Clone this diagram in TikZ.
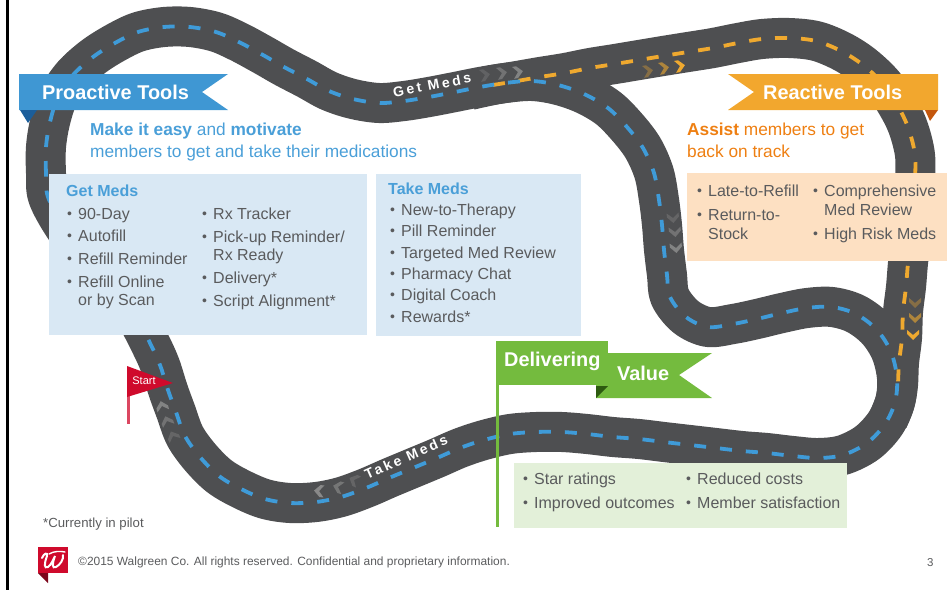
\documentclass[tikz,border=0pt]{standalone}
\usepackage{fontspec}
\setmainfont{Liberation Sans}
\newfontfamily\spaced[LetterSpace=19]{Liberation Sans}
\definecolor{roadc}{HTML}{4E4F51}
\definecolor{blued}{HTML}{3F9BD8}
\definecolor{oranged}{HTML}{EFA92F}
\definecolor{txtc}{HTML}{5A5B5D}
\definecolor{headblue}{HTML}{4A9FD8}
\definecolor{headorange}{HTML}{EE7F12}
\definecolor{bannerblue}{HTML}{3F97D3}
\definecolor{bannerorange}{HTML}{F2A72E}
\definecolor{bannergreen}{HTML}{74BB3E}
\definecolor{foldblue}{HTML}{1B5E9B}
\definecolor{foldorange}{HTML}{C4570D}
\definecolor{foldgreen}{HTML}{2D5A10}
\definecolor{redflag}{HTML}{CF0A2C}
\definecolor{boxblue}{HTML}{D9E8F4}
\definecolor{boxorange}{HTML}{FDE0C2}
\definecolor{boxgreen}{HTML}{E3F0D9}
\definecolor{chevgray}{HTML}{909090}
\newcommand\bu{\makebox[11pt][l]{\raisebox{0.5pt}{\fontsize{14}{14}\selectfont\textbullet}}}
\newcommand\chevron[5]{\fill[#4,opacity=#5,shift={(#1,#2)},rotate=#3] (-5,-6) -- (-1,-6) -- (5,0) -- (-1,6) -- (-5,6) -- (0,0) -- cycle;}
\newcommand\bluepts{(48,197)(46,173)(46,147)(50,122)(58,97)(73,75)(93,57)(115,43)(138,32)(164,27)(190,27)(216,32)(239,42)(263,55)(284,67)(307,79)(329,91)(353,99)(379,103)(404,101)(429,97)(455,92)(480,87)(505,83)(532,81)(558,85)(584,94)(608,108)(627,127)(643,148)(654,173)(659,200)(662,225)(664,250)(667,275)(670,297)(686,317)(708,327)(733,324)(757,319)(782,313)(807,308)(832,307)(856,314)(877,330)(891,352)(897,378)(895,402)(885,424)(867,443)(843,455)(818,458)(793,456)(767,453)(742,451)(716,448)(690,445)(664,442)(639,439)(613,437)(587,434)(562,432)(536,432)(510,434)(484,440)(460,448)(437,458)(413,468)(389,478)(366,488)(341,497)(316,502)(290,503)(265,499)(241,489)(219,476)(200,457)(185,436)(176,412)(168,390)(160,365)(150,343)(135,315)(115,290)(90,260)(65,228)}
\newcommand\orangepts{(493,85)(517,81)(540,77)(565,73)(590,68)(615,64)(639,60)(663,56)(688,52)(713,48)(738,43)(762,39)(789,38)(816,41)(841,51)(863,65)(884,85)(900,110)(909,130)(915,155)(915,182)(914,210)(911,237)(908,263)(906,287)(903,312)(902,338)(899,363)(898,385)}
\tikzset{
  road/.style={draw=roadc,line width=40pt,line join=round},
  bluedash/.style={draw=blued,line width=3.8pt,dash pattern=on 12pt off 14pt},
  orangedash/.style={draw=oranged,line width=3.8pt,dash pattern=on 12pt off 14pt},
  body/.style={anchor=base west,inner sep=0pt,text=txtc,font=\fontsize{16}{19}\selectfont},
  head/.style={anchor=base west,inner sep=0pt,font=\fontsize{17.3}{20}\selectfont},
  subhead/.style={anchor=base west,inner sep=0pt,text=headblue,font=\fontsize{16}{19}\selectfont\bfseries},
  bannertxt/.style={anchor=base west,inner sep=0pt,text=white,font=\fontsize{19.9}{24}\selectfont\bfseries},
  roadtxt/.style={inner sep=0pt,text=white,font=\fontsize{14}{16}\selectfont\bfseries\spaced},
  foot/.style={anchor=base west,inner sep=0pt,text=txtc}
}
\begin{document}
\begin{tikzpicture}[x=1pt,y=-1pt]
\useasboundingbox (0,0) rectangle (951,590);
% road
\draw[road] plot[smooth,tension=0.55] coordinates {(470,90)\orangepts(895,402)(888,420)};
\draw[road] plot[smooth cycle,tension=0.55] coordinates {\bluepts};
\draw[orangedash] plot[smooth,tension=0.55] coordinates {\orangepts};
\draw[bluedash] plot[smooth cycle,tension=0.55] coordinates {\bluepts};
% chevrons
\chevron{485}{75}{10}{chevgray}{0.3}\chevron{502}{73}{10}{chevgray}{0.55}\chevron{518}{72}{10}{chevgray}{0.8}
\chevron{648}{71}{10}{oranged}{0.35}\chevron{664}{68}{10}{oranged}{0.6}\chevron{680}{66}{10}{oranged}{1}
\chevron{673}{218}{-85}{chevgray}{0.35}\chevron{675}{232}{-85}{chevgray}{0.55}\chevron{676}{248}{-85}{chevgray}{0.8}
\chevron{915}{303}{-90}{oranged}{0.35}\chevron{915}{318}{-90}{oranged}{0.6}\chevron{913}{335}{-90}{oranged}{1}
\chevron{162}{406}{105}{chevgray}{0.8}\chevron{167}{421}{110}{chevgray}{0.55}\chevron{173}{436}{115}{chevgray}{0.35}
\chevron{319}{491}{175}{chevgray}{0.9}\chevron{338}{487}{165}{chevgray}{0.6}\chevron{354}{480}{155}{chevgray}{0.35}
% boxes
\fill[boxblue] (49,174) rectangle (367,335);
\fill[boxblue] (376,174) rectangle (581,336);
\fill[boxorange] (687,173) rectangle (947,261);
\fill[boxgreen] (514,463) rectangle (847,528);
% left rule
\fill[black] (6,0) rectangle (9,590);
% banners
\fill[bannerblue] (19,74) -- (228,74) -- (202,92) -- (228,110) -- (19,110) -- cycle;
\fill[foldblue] (20,110) -- (37,110) -- (28,123) -- cycle;
\fill[bannerorange] (728,74) -- (938,74) -- (938,110) -- (728,110) -- (754,92) -- cycle;
\fill[foldorange] (938,110) -- (925,110) -- (930,121) -- cycle;
% green flag
\fill[bannergreen] (496,385) rectangle (499,527);
\fill[bannergreen] (608,353) -- (712,353) -- (679,375) -- (712,398) -- (596,398) -- (596,385) -- (608,385) -- cycle;
\fill[foldgreen] (596,386) -- (608,386) -- (596,398) -- cycle;
\fill[bannergreen] (496,341) rectangle (608,385);
% start flag
\fill[redflag!75!white] (127,390) rectangle (130,424);
\fill[redflag] (127,366) -- (173,383) -- (127,397) -- cycle;
% logo
\fill[redflag!60!black] (38,573) -- (48,583) -- (48,573) -- cycle;
\fill[redflag] (38,547) rectangle (68,573);
\draw[white,line width=2pt,line cap=round] (42,558) .. controls (44,553) and (48,552) .. (47,556) .. controls (44,564) and (44,569) .. (48,567) .. controls (51,565) and (53,560) .. (55,556) .. controls (52,564) and (52,569) .. (56,567) .. controls (60,565) and (64,559) .. (63,555);
\draw[white,line width=1.4pt,line cap=round] (49,554) .. controls (54,551) and (60,551) .. (65,552);
% banner text
\node[bannertxt] (proactive) at (42,99) {Proactive Tools};
\node[bannertxt] (reactive) at (763,99) {Reactive Tools};
\node[bannertxt] (delivering) at (504,366) {Delivering};
\node[bannertxt] (value) at (617,380) {Value};
\node[inner sep=0pt,text=white,font=\fontsize{11}{13}\selectfont] (start) at (144,381) {Start};
\node[roadtxt,rotate=11] (getroad) at (432,85) {Get Meds};
\node[roadtxt,rotate=24] (takeroad) at (406,457) {Take Meds};
% heads
\node[head,text=headblue] (make) at (90,135) {\textbf{Make it easy} and \textbf{motivate}};
\node[head,text=headblue] (members) at (90,157) {members to get and take their medications};
\node[head,text=headorange] (assist) at (687,135) {\textbf{Assist} members to get};
\node[head,text=headorange] (back) at (687,157) {back on track};
% get meds
\node[subhead] (gethead) at (66,196) {Get Meds};
\node[body] (g1) at (67,219) {\bu 90-Day};
\node[body] (g2) at (67,241) {\bu Autofill};
\node[body] (g3) at (67,264) {\bu Refill Reminder};
\node[body] (g4) at (67,287) {\bu Refill Online};
\node[body] (g4b) at (78,305) {or by Scan};
\node[body] (g5) at (202,219) {\bu Rx Tracker};
\node[body] (g6) at (202,242) {\bu Pick-up Reminder/};
\node[body] (g6b) at (213,260) {Rx Ready};
\node[body] (g7) at (202,283) {\bu Delivery*};
\node[body] (g8) at (202,306) {\bu Script Alignment*};
% take meds
\node[subhead] (takehead) at (388,194) {Take Meds};
\node[body] (t1) at (390,215) {\bu New-to-Therapy};
\node[body] (t2) at (390,236) {\bu Pill Reminder};
\node[body] (t3) at (390,258) {\bu Targeted Med Review};
\node[body] (t4) at (390,279) {\bu Pharmacy Chat};
\node[body] (t5) at (390,300) {\bu Digital Coach};
\node[body] (t6) at (390,322) {\bu Rewards*};
% reactive
\node[body] (r1) at (697,196) {\bu Late-to-Refill};
\node[body] (r2) at (697,220) {\bu Return-to-};
\node[body] (r2b) at (708,239) {Stock};
\node[body] (r3) at (813,196) {\bu Comprehensive};
\node[body] (r3b) at (824,215) {Med Review};
\node[body] (r4) at (813,239) {\bu High Risk Meds};
% value
\node[body] (v1) at (523,484) {\bu Star ratings};
\node[body] (v2) at (523,508) {\bu Improved outcomes};
\node[body] (v3) at (686,484) {\bu Reduced costs};
\node[body] (v4) at (686,508) {\bu Member satisfaction};
% footer
\node[foot,font=\fontsize{13.2}{15}\selectfont] (pilot) at (43,527) {*Currently in pilot};
\node[foot,font=\fontsize{11.95}{14}\selectfont] (copy) at (78,565) {©2015 Walgreen Co. All rights reserved. Confidential and proprietary information.};
\node[foot,font=\fontsize{11.5}{14}\selectfont] (page) at (927,566) {3};
\end{tikzpicture}
\end{document}
